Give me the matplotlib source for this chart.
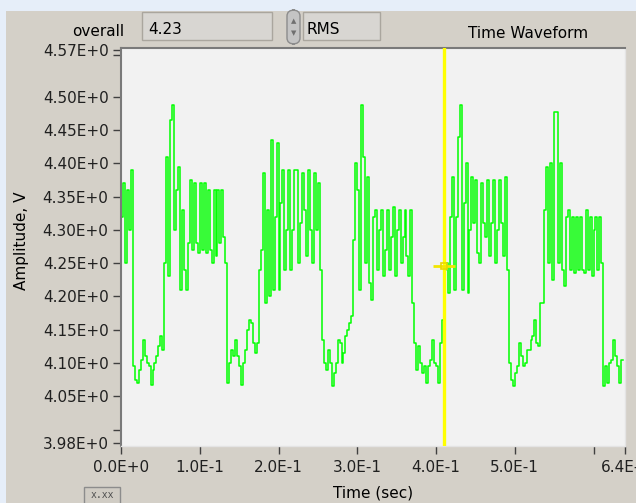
import numpy as np
import matplotlib.pyplot as plt
from matplotlib.patches import Rectangle, FancyBboxPatch

# Waveform samples (V)
start_high = [4.32, 4.37, 4.25, 4.36, 4.30, 4.39]
low_1 = [4.095, 4.075, 4.07, 4.09, 4.105, 4.135, 4.11, 4.10, 4.095, 4.067, 4.09, 4.10,
         4.11, 4.125, 4.14, 4.12]
high_1 = [4.25, 4.41, 4.23, 4.465, 4.487, 4.30, 4.36, 4.395, 4.21, 4.33, 4.24, 4.21,
          4.28, 4.375, 4.27, 4.37, 4.28, 4.265, 4.37, 4.27, 4.37, 4.265, 4.36, 4.27,
          4.25, 4.36, 4.26, 4.36, 4.28, 4.36, 4.29, 4.25]
low_2 = [4.07, 4.10, 4.12, 4.11, 4.135, 4.11, 4.095, 4.067, 4.10, 4.12, 4.15, 4.165,
         4.16, 4.13, 4.115, 4.13]
high_2 = [4.24, 4.27, 4.385, 4.19, 4.33, 4.20, 4.435, 4.21, 4.32, 4.43, 4.21, 4.34,
          4.39, 4.24, 4.30, 4.39, 4.24, 4.30, 4.39, 4.39, 4.25, 4.31, 4.385, 4.33,
          4.26, 4.39, 4.30, 4.25, 4.385, 4.30, 4.37, 4.24]
low_3 = [4.135, 4.10, 4.09, 4.12, 4.10, 4.065, 4.085, 4.10, 4.135, 4.13, 4.10, 4.115,
         4.14, 4.15, 4.16, 4.17]
high_3 = [4.285, 4.40, 4.36, 4.21, 4.487, 4.41, 4.25, 4.38, 4.22, 4.195, 4.32, 4.33,
          4.24, 4.30, 4.33, 4.23, 4.27, 4.33, 4.24, 4.29, 4.335, 4.23, 4.30, 4.33,
          4.25, 4.29, 4.33, 4.26, 4.23, 4.33]
low_4 = [4.19, 4.13, 4.09, 4.125, 4.10, 4.085, 4.095, 4.07, 4.095, 4.105, 4.135, 4.10,
         4.095, 4.07, 4.13, 4.165]
high_4 = [4.24, 4.25, 4.205, 4.32, 4.38, 4.21, 4.32, 4.44, 4.487, 4.21, 4.34, 4.40,
          4.205, 4.30, 4.38, 4.31, 4.375, 4.265, 4.25, 4.37, 4.31, 4.29, 4.375, 4.26,
          4.31, 4.375, 4.25, 4.30, 4.375, 4.31, 4.26, 4.38, 4.24]
low_5 = [4.10, 4.075, 4.065, 4.085, 4.095, 4.13, 4.11, 4.095, 4.10, 4.12, 4.12, 4.135,
         4.14, 4.165, 4.13, 4.125, 4.19]
high_5 = [4.19, 4.33, 4.395, 4.25, 4.40, 4.225, 4.477, 4.477, 4.25, 4.40, 4.24, 4.215,
          4.32, 4.33, 4.24, 4.32, 4.235, 4.32, 4.24, 4.32, 4.24, 4.235, 4.33, 4.24,
          4.32, 4.23, 4.30, 4.32, 4.24, 4.32, 4.25]
low_6 = [4.065, 4.095, 4.07, 4.10, 4.105, 4.135, 4.11, 4.095, 4.07, 4.105, 4.105]

dt = 0.0025          # sample spacing, s
cursor_t = 0.410
cursor_v = 4.245
overall_value = "4.23"
overall_mode = "RMS"

yticks = [3.98, 4.05, 4.10, 4.15, 4.20, 4.25, 4.30, 4.35, 4.40, 4.45, 4.50, 4.57]
ytick_labels = ["%.2fE+0" % v for v in yticks]
xticks = [0.0, 0.1, 0.2, 0.3, 0.4, 0.5, 0.6, 0.64]
xtick_labels = ["0.0E+0", "1.0E-1", "2.0E-1", "3.0E-1", "4.0E-1", "5.0E-1", "", "6.4E-1"]

amp = np.concatenate([start_high, low_1, high_1, low_2, high_2, low_3, high_3,
                      low_4, high_4, low_5, high_5, low_6])
t = np.arange(len(amp)) * dt

W, H = 636, 503
fig = plt.figure(figsize=(W / 100, H / 100), dpi=100, facecolor="#e6eef9")


def box(x, y, w, h):
    # pixel box measured from the top-left corner -> figure fraction
    return [x / W, 1 - (y + h) / H, w / W, h / H]


def rect(x, y, w, h, z=1, **kw):
    l, b, ww, hh = box(x, y, w, h)
    fig.add_artist(Rectangle((l, b), ww, hh, transform=fig.transFigure, zorder=z, **kw))


# grey front panel, behind everything
rect(6, 11, 640, 500, z=-5, facecolor="#d4d0c8", edgecolor="none")

# top controls
fig.text(124 / W, 1 - 31 / H, "overall", ha="right", va="center", fontsize=11)
rect(142, 12, 130, 28, facecolor="#d8d6d2", edgecolor="#aaa69e", lw=1)
fig.text(148 / W, 1 - 29 / H, overall_value, ha="left", va="center", fontsize=11)
l, b, ww, hh = box(287, 10, 13, 34)
fig.add_artist(FancyBboxPatch((l, b), ww, hh, boxstyle="round,pad=0,rounding_size=0.012",
                              transform=fig.transFigure, facecolor="#c4c4c4",
                              edgecolor="#8c8c8c", lw=1))
fig.text(293.5 / W, 1 - 21 / H, "\u25b2", ha="center", va="center", fontsize=5, color="#707070")
fig.text(293.5 / W, 1 - 33 / H, "\u25bc", ha="center", va="center", fontsize=5, color="#707070")
rect(303, 12, 77, 28, facecolor="#d8d6d2", edgecolor="#aaa69e", lw=1)
fig.text(307 / W, 1 - 29 / H, overall_mode, ha="left", va="center", fontsize=11)
fig.text(528 / W, 1 - 34 / H, "Time Waveform", ha="center", va="center", fontsize=11)

# plot area
ax = fig.add_axes(box(121, 48, 504, 398))
ax.set_facecolor("#f2f2f2")
ax.step(t, amp, where="post", color="#00ff00", lw=1.1, zorder=2)
ax.axvline(cursor_t, color="#ffff00", lw=2.4, zorder=3)
ax.plot(cursor_t, cursor_v, marker="_", ms=16, mew=2, color="#f2e600", zorder=4)
ax.plot(cursor_t, cursor_v, marker="s", ms=5, mfc="none", mec="#e8d800", mew=1.2, zorder=5)

ax.set_xlim(0, 0.64)
ax.set_ylim(3.9755, 4.573)
ax.set_yticks(yticks)
ax.set_yticklabels(ytick_labels)
ax.set_yticks([4.00, 4.562], minor=True)
ax.set_xticks(xticks)
ax.set_xticklabels(xtick_labels)
ax.tick_params(axis="both", which="both", direction="out", length=6, width=1,
               color="#404040", labelsize=11, labelcolor="#202020")
ax.tick_params(axis="y", pad=3)
ax.tick_params(axis="x", pad=4)

for side in ["left", "top"]:
    ax.spines[side].set_color("#7a7a7a")
    ax.spines[side].set_linewidth(1.5)
for side in ["right", "bottom"]:
    ax.spines[side].set_color("#e4e4e4")
    ax.spines[side].set_linewidth(1)

fig.text(22 / W, 1 - 241 / H, "Amplitude, V", rotation=90, ha="center", va="center", fontsize=11)
fig.text(373 / W, 1 - 493 / H, "Time (sec)", ha="center", va="center", fontsize=11)

# x.xx format button
rect(84, 487, 36, 18, facecolor="#d0ccc4", edgecolor="#8c8c8c", lw=1)
fig.text(102 / W, 1 - 495 / H, "x.xx", ha="center", va="center", fontsize=7,
         family="DejaVu Sans Mono", color="#505050")

fig.savefig("out.png", dpi=100, facecolor=fig.get_facecolor())
